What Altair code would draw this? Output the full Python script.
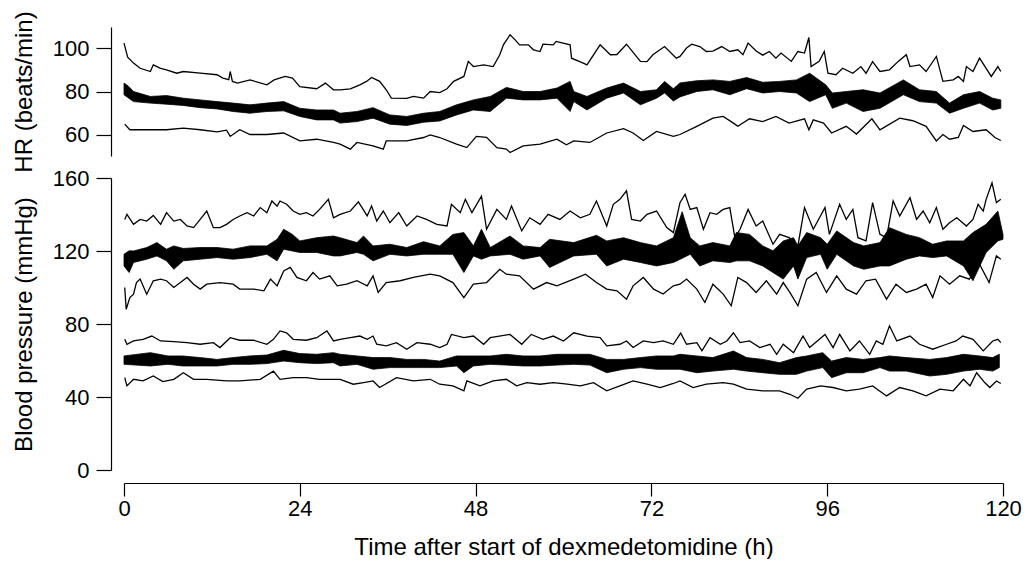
import altair as alt
import pandas as pd

# ---------------- Heart rate (beats/min) ----------------
hr_hi_t = [0.0, 0.5, 1.3, 2.2, 3.6, 4.0, 5.0, 5.8, 7.2, 8.1, 10.4, 12.7, 13.5, 14.3, 14.5, 14.8, 15.5, 17.2, 19.5, 20.5,
           22.0, 23.0, 24.0, 26.3, 27.5, 28.6, 29.5, 30.9, 32.2, 33.1, 33.8, 34.9, 35.8, 36.5, 38.6, 39.5, 40.9, 41.8, 43.1, 44.1,
           45.0, 46.4, 47.0, 47.7, 49.1, 50.4, 51.3, 51.8, 52.7, 53.4, 54.0, 55.2, 55.9, 56.8, 57.2, 58.6, 59.0, 60.9, 61.1, 62.7,
           63.2, 65.0, 66.4, 67.3, 68.6, 70.5, 71.4, 72.2, 73.8, 75.4, 75.9, 76.8, 77.5, 78.6, 79.5, 80.4, 81.6, 82.7, 83.8, 84.5,
           85.2, 86.3, 87.2, 88.1, 89.0, 89.7, 91.1, 92.0, 92.9, 93.5, 93.8, 94.9, 95.6, 96.1, 97.2, 98.1, 99.5, 100.6, 101.3, 102.2,
           103.2, 104.5, 105.7, 106.8, 107.3, 108.6, 109.5, 110.9, 111.8, 113.2, 113.9, 114.6, 115.0, 115.9, 116.8, 117.7, 118.4, 119.3, 119.7]
hr_hi_v = [102.5, 96.0, 93.2, 90.8, 89.3, 92.4, 90.8, 90.1, 88.5, 89.3, 88.5, 87.8, 86.2, 85.5, 89.3, 84.7, 83.9, 85.4, 83.1, 85.4,
           87.0, 86.2, 82.3, 81.3, 83.9, 80.8, 80.8, 81.2, 83.1, 84.7, 86.5, 84.7, 80.8, 76.9, 76.8, 77.7, 76.9, 80.0, 79.5, 81.3,
           84.7, 87.0, 94.0, 91.6, 92.4, 91.6, 97.1, 101.7, 106.4, 104.0, 101.7, 101.7, 99.4, 98.6, 102.0, 101.7, 103.3, 101.7, 95.5, 93.2,
           92.4, 101.7, 97.1, 97.2, 102.0, 94.0, 93.9, 97.1, 100.9, 95.5, 96.3, 100.2, 102.0, 100.9, 98.6, 98.8, 100.9, 98.6, 99.4, 97.1,
           102.5, 98.8, 96.9, 98.6, 95.5, 97.9, 94.0, 98.6, 97.9, 105.1, 91.6, 94.0, 98.6, 88.5, 87.8, 90.8, 88.5, 91.6, 88.5, 93.9,
           89.3, 90.1, 94.0, 97.1, 91.6, 92.4, 89.3, 96.3, 84.7, 85.4, 87.0, 84.7, 91.6, 89.3, 95.5, 90.8, 87.0, 91.6, 89.3]

hr_band_t = [0.0, 0.6, 1.3, 3.6, 5.8, 8.1, 10.4, 12.7, 14.9, 17.2, 19.5, 21.8, 24.0, 26.3, 28.6, 29.5, 31.8, 34.0, 36.3, 38.6,
             40.9, 43.1, 45.4, 47.7, 50.0, 52.2, 54.5, 56.8, 59.1, 60.9, 61.4, 63.2, 65.9, 68.2, 70.5, 72.7, 73.8, 75.0, 75.9, 78.2,
             80.4, 82.7, 85.0, 87.2, 89.5, 91.8, 93.6, 95.8, 96.7, 98.6, 100.9, 103.2, 106.4, 108.6, 110.9, 112.7, 114.6, 116.8, 118.6, 119.7]
hr_band_lo = [78.5, 77.0, 75.3, 74.6, 74.1, 73.5, 72.5, 71.9, 70.7, 69.9, 70.7, 71.0, 68.4, 66.8, 66.8, 65.3, 66.0, 67.6, 64.8, 64.2,
              65.7, 66.3, 69.1, 71.4, 70.7, 76.9, 76.1, 76.1, 76.9, 70.7, 75.3, 71.4, 76.9, 79.3, 73.8, 76.9, 79.3, 75.6, 77.5, 80.0,
              80.8, 78.5, 81.3, 79.3, 80.0, 79.3, 75.3, 78.5, 72.2, 74.6, 70.7, 72.2, 78.5, 75.3, 74.6, 69.9, 72.2, 74.6, 71.4, 72.2]
hr_band_hi = [83.9, 82.5, 80.0, 77.7, 78.1, 76.9, 76.1, 75.3, 74.6, 73.8, 74.6, 75.3, 72.2, 71.4, 71.4, 69.9, 70.7, 72.5, 69.1, 68.4,
              69.9, 70.7, 73.8, 76.1, 77.7, 81.9, 80.0, 80.0, 81.6, 84.7, 80.0, 77.7, 81.6, 83.9, 80.0, 80.8, 84.7, 81.3, 84.0, 85.0,
              85.4, 84.7, 86.5, 84.3, 84.7, 85.4, 88.5, 83.1, 79.3, 80.0, 80.8, 79.3, 85.4, 80.8, 80.0, 74.6, 78.5, 80.0, 76.9, 76.1]

hr_lo_t = [0.1, 0.8, 3.6, 5.8, 8.1, 10.4, 12.7, 14.0, 14.5, 15.8, 17.2, 19.5, 21.8, 24.0, 26.3, 28.6, 29.5, 30.9, 31.8, 34.0,
           35.4, 35.8, 38.6, 40.9, 41.8, 43.1, 45.4, 46.8, 48.1, 49.5, 50.9, 52.2, 52.7, 54.5, 56.8, 59.1, 60.4, 61.4, 63.6, 65.9,
           68.2, 69.5, 70.9, 72.7, 75.0, 75.9, 78.2, 80.4, 81.8, 83.2, 83.8, 85.4, 87.2, 89.0, 90.8, 92.9, 93.5, 94.1, 95.5, 96.6,
           98.6, 100.0, 102.1, 103.2, 105.9, 107.7, 109.5, 110.9, 111.8, 112.7, 113.9, 114.6, 115.9, 117.7, 118.9, 119.7]
hr_lo_v = [64.8, 62.2, 62.2, 62.2, 63.0, 62.2, 61.2, 62.0, 59.1, 62.2, 60.0, 60.0, 60.7, 57.0, 57.8, 56.3, 55.5, 53.2, 56.3, 54.7,
           53.2, 57.0, 57.0, 58.6, 59.8, 58.6, 55.5, 53.9, 59.1, 58.7, 53.9, 53.2, 51.6, 54.7, 55.5, 57.8, 55.2, 57.0, 56.3, 60.7,
           62.7, 60.7, 57.2, 61.4, 59.1, 60.0, 63.8, 67.6, 68.4, 65.3, 63.8, 67.3, 66.0, 68.4, 65.3, 67.3, 62.2, 66.8, 65.3, 60.7,
           63.8, 60.2, 67.3, 62.2, 67.6, 66.4, 63.8, 57.0, 60.0, 57.8, 58.6, 64.2, 61.4, 62.2, 58.6, 57.2]

# ---------------- Systolic blood pressure (mmHg) ----------------
sys_hi_t = [0.1, 0.4, 1.3, 2.2, 3.1, 4.0, 5.0, 5.8, 6.8, 7.7, 8.6, 9.5, 10.4, 11.3, 12.2, 13.1, 14.0, 14.9, 15.8, 16.8,
            17.7, 18.6, 19.5, 20.2, 20.9, 21.3, 22.2, 23.1, 24.0, 24.9, 25.8, 26.7, 27.9, 28.6, 29.5, 30.9, 32.0, 33.2, 33.8, 34.5,
            35.4, 36.3, 37.5, 38.6, 40.0, 41.3, 42.7, 44.1, 44.7, 45.9, 46.6, 47.5, 48.8, 49.5, 50.9, 52.2, 52.9, 54.3, 55.4, 56.8,
            57.9, 59.5, 60.9, 62.3, 63.6, 64.5, 65.9, 66.8, 67.7, 68.6, 69.3, 70.5, 71.4, 72.7, 74.1, 75.0, 75.9, 76.6, 77.3, 78.2,
            79.1, 80.0, 80.9, 81.8, 82.7, 83.4, 84.1, 85.2, 86.3, 87.2, 88.6, 89.5, 90.8, 92.0, 92.9, 94.1, 95.7, 96.3, 97.7, 98.6,
            99.5, 100.2, 101.3, 102.2, 103.2, 104.1, 105.0, 105.9, 107.3, 108.2, 109.1, 110.0, 110.9, 111.8, 112.7, 113.7, 115.0, 115.9, 116.6, 117.3,
            117.7, 118.5, 119.1, 119.7]
sys_hi_v = [137.3, 140.1, 134.6, 137.3, 136.4, 139.5, 134.6, 141.0, 136.4, 137.3, 133.7, 132.8, 137.3, 141.9, 132.8, 132.8, 134.6, 137.3, 139.2, 141.0,
            139.2, 143.8, 141.0, 147.4, 144.6, 147.4, 145.6, 141.9, 140.1, 141.0, 139.2, 142.8, 148.3, 138.2, 140.1, 141.9, 146.9, 139.2, 144.6, 136.4,
            141.9, 135.5, 141.0, 133.7, 139.2, 137.3, 134.6, 133.7, 145.6, 141.0, 148.3, 141.0, 150.1, 131.9, 142.8, 137.3, 144.6, 131.0, 138.2, 134.6,
            140.1, 137.3, 141.9, 138.2, 140.1, 147.4, 133.7, 145.6, 148.3, 153.0, 137.3, 136.4, 140.1, 141.9, 132.8, 130.1, 146.5, 151.1, 142.8, 143.8,
            131.9, 141.0, 140.1, 142.8, 143.8, 127.3, 131.9, 142.8, 133.7, 136.4, 123.7, 129.1, 127.3, 122.8, 143.8, 131.9, 143.8, 129.1, 145.6, 137.3,
            142.8, 127.3, 125.5, 146.5, 129.1, 127.3, 147.4, 139.2, 149.2, 137.3, 141.9, 135.5, 143.8, 131.9, 135.5, 138.2, 133.7, 137.3, 145.6, 141.9,
            148.3, 157.4, 146.5, 148.3]

sys_band_t = [0.0, 0.7, 1.3, 3.1, 4.5, 5.8, 6.8, 8.1, 10.4, 12.7, 14.9, 17.2, 19.5, 20.9, 21.8, 23.0, 24.0, 26.3, 28.6, 29.5,
              31.8, 32.7, 34.0, 36.3, 38.6, 40.9, 43.1, 44.9, 46.4, 47.7, 48.8, 50.0, 52.7, 54.5, 56.8, 58.1, 61.4, 64.5, 65.9, 68.2,
              70.5, 72.7, 75.0, 76.2, 77.3, 78.6, 80.4, 82.7, 83.6, 85.4, 87.2, 88.6, 90.0, 91.4, 92.0, 93.2, 95.1, 96.0, 97.3, 99.6,
              101.0, 103.2, 104.5, 106.8, 108.6, 110.4, 112.3, 114.6, 115.9, 117.7, 119.3, 120.0]
sys_band_lo = [111.8, 108.2, 113.7, 115.5, 117.3, 114.6, 110.0, 114.6, 115.5, 116.4, 115.5, 116.4, 118.2, 114.6, 121.0, 120.0, 119.2, 119.2, 117.3, 117.3,
               119.2, 118.2, 114.6, 118.2, 117.3, 118.2, 118.2, 118.2, 108.2, 117.3, 115.5, 117.3, 118.2, 115.5, 117.3, 111.0, 117.3, 118.2, 111.8, 115.5,
               113.7, 111.8, 113.7, 116.0, 118.2, 111.8, 114.6, 113.7, 114.6, 114.6, 111.8, 108.2, 104.6, 111.8, 104.6, 116.4, 118.2, 110.0, 118.2, 111.8,
               110.0, 111.8, 111.8, 115.5, 117.3, 116.4, 117.3, 111.8, 103.7, 119.2, 125.5, 126.4]
sys_band_hi = [118.2, 120.1, 120.0, 121.9, 124.6, 121.0, 122.8, 121.4, 121.9, 121.9, 121.0, 122.8, 122.8, 126.4, 131.9, 129.1, 125.5, 127.3, 128.2, 127.3,
               124.6, 128.2, 122.8, 123.7, 121.9, 125.1, 122.8, 129.1, 130.1, 122.8, 131.9, 121.9, 128.2, 122.8, 121.9, 126.4, 124.6, 128.6, 125.5, 127.3,
               124.6, 122.8, 127.3, 141.5, 127.3, 122.8, 124.6, 122.8, 130.1, 129.1, 122.8, 120.1, 125.5, 127.3, 122.8, 130.1, 127.3, 123.7, 131.0, 124.6,
               122.8, 124.6, 132.8, 129.1, 127.3, 123.7, 125.5, 125.5, 130.1, 134.6, 141.9, 129.1]

sys_lo_t = [0.1, 0.3, 0.8, 1.3, 1.7, 2.2, 3.1, 4.0, 5.0, 5.8, 6.8, 7.7, 8.6, 9.5, 10.4, 11.3, 13.1, 14.9, 15.8, 17.7,
            19.1, 20.0, 20.9, 21.8, 22.7, 23.6, 24.9, 25.8, 26.7, 28.1, 29.1, 30.4, 31.8, 33.2, 34.0, 34.7, 35.8, 37.7, 39.5, 41.8,
            43.1, 44.9, 46.4, 47.7, 49.5, 51.3, 52.2, 54.0, 55.9, 57.7, 59.1, 61.4, 63.0, 64.5, 65.9, 67.3, 68.6, 69.5, 70.9, 72.3,
            73.6, 75.0, 75.9, 76.8, 78.2, 79.3, 80.4, 81.8, 82.9, 83.8, 85.0, 86.3, 87.7, 89.1, 90.0, 90.9, 92.0, 93.2, 94.5, 95.9,
            97.3, 98.6, 100.0, 101.3, 102.6, 104.1, 105.4, 106.8, 108.2, 109.5, 110.4, 111.4, 112.7, 114.1, 115.4, 116.8, 118.1, 119.1, 119.7]
sys_lo_v = [100.0, 88.1, 94.5, 96.3, 102.7, 104.6, 96.3, 103.7, 104.6, 103.7, 100.0, 102.7, 105.5, 101.8, 99.1, 101.8, 102.7, 101.8, 99.1, 99.1,
            98.2, 104.6, 100.9, 109.1, 111.0, 105.5, 103.7, 108.2, 104.6, 106.4, 100.9, 101.8, 103.7, 100.9, 106.4, 97.3, 102.7, 103.7, 105.5, 107.3,
            106.4, 102.7, 94.5, 101.8, 102.7, 110.0, 107.3, 106.4, 99.1, 102.7, 100.9, 104.6, 107.3, 102.7, 99.1, 98.2, 93.6, 100.9, 105.5, 99.1,
            96.4, 100.9, 101.8, 104.6, 99.1, 91.8, 101.8, 96.4, 90.0, 105.5, 102.7, 97.3, 103.7, 96.4, 102.7, 97.3, 90.0, 104.6, 108.2, 97.3,
            106.4, 99.1, 96.4, 103.7, 104.6, 93.6, 101.8, 97.3, 99.1, 101.8, 94.5, 106.4, 101.8, 106.4, 104.6, 112.8, 102.7, 117.3, 115.5]

# ---------------- Diastolic blood pressure (mmHg) ----------------
dia_hi_t = [0.1, 0.4, 1.3, 2.6, 3.8, 5.0, 6.8, 8.6, 10.4, 12.2, 13.1, 14.5, 15.8, 17.7, 19.5, 20.4, 21.3, 22.2, 23.1, 24.9,
            26.3, 27.7, 28.6, 29.5, 30.9, 32.2, 33.2, 34.0, 34.5, 35.8, 37.2, 38.6, 40.0, 41.8, 43.1, 44.1, 44.7, 46.4, 47.7, 49.1,
            50.0, 52.7, 54.3, 55.6, 57.2, 58.6, 60.0, 61.4, 63.2, 65.0, 65.9, 67.7, 68.6, 69.5, 70.9, 72.3, 73.6, 75.0, 76.0, 76.8,
            78.2, 78.9, 80.0, 81.4, 82.3, 83.2, 84.1, 85.4, 86.8, 88.2, 89.1, 90.0, 91.4, 92.7, 93.6, 95.7, 96.8, 97.7, 99.1, 100.4,
            101.8, 102.7, 103.6, 104.5, 105.5, 107.3, 108.6, 110.4, 112.3, 113.6, 114.5, 115.9, 117.3, 118.6, 119.3, 119.7]
dia_hi_v = [71.6, 68.9, 70.7, 71.6, 73.4, 70.7, 70.3, 69.8, 68.9, 69.8, 67.1, 72.5, 71.1, 71.1, 68.9, 71.6, 76.2, 75.2, 71.6, 71.1,
            72.5, 76.2, 70.7, 71.6, 72.5, 73.4, 71.6, 73.4, 68.9, 68.0, 69.8, 66.2, 69.8, 68.9, 67.1, 68.9, 74.3, 72.5, 73.4, 68.9,
            72.5, 74.3, 68.9, 74.3, 71.6, 73.4, 70.7, 75.2, 73.4, 72.5, 68.0, 68.9, 70.7, 67.1, 70.7, 69.8, 70.7, 68.9, 75.0, 68.9,
            69.8, 65.3, 72.5, 68.9, 70.7, 75.2, 69.8, 70.7, 67.1, 68.9, 63.4, 68.9, 64.3, 73.4, 67.1, 74.3, 67.1, 74.3, 65.3, 70.7,
            63.4, 70.7, 68.9, 79.0, 70.7, 73.4, 68.9, 66.2, 68.9, 70.7, 73.4, 71.6, 65.3, 70.7, 71.6, 69.8]

dia_band_t = [0.0, 3.6, 6.0, 8.0, 10.4, 12.7, 14.9, 17.2, 19.5, 21.8, 24.0, 26.3, 28.6, 29.5, 31.8, 34.0, 36.3, 38.6, 40.9, 43.1,
              45.4, 46.4, 47.7, 50.0, 52.2, 54.5, 56.8, 59.1, 61.4, 63.6, 65.9, 68.2, 70.5, 72.7, 75.0, 75.9, 78.2, 80.4, 83.2, 85.0,
              87.2, 89.5, 91.8, 93.2, 95.4, 96.6, 98.6, 100.9, 103.2, 104.5, 106.8, 110.0, 112.3, 114.6, 116.8, 118.6, 119.5]
dia_band_lo = [57.9, 57.0, 57.9, 57.0, 57.0, 57.0, 57.9, 57.9, 58.3, 59.7, 58.8, 58.3, 58.8, 57.0, 57.9, 55.2, 56.1, 56.1, 56.1, 56.1,
               57.0, 53.3, 57.0, 57.9, 57.5, 57.0, 57.0, 57.5, 57.9, 57.5, 53.3, 55.2, 56.1, 55.2, 55.2, 55.2, 53.3, 54.2, 55.2, 54.2,
               53.3, 52.4, 52.4, 54.2, 56.1, 50.6, 53.3, 53.3, 56.1, 54.2, 54.2, 51.5, 52.4, 54.2, 55.2, 54.2, 56.1]
dia_band_hi = [62.5, 64.3, 62.5, 62.5, 61.6, 60.6, 61.6, 62.5, 63.0, 65.6, 63.8, 63.4, 64.3, 63.4, 62.5, 61.6, 61.6, 60.6, 60.6, 59.7,
               62.5, 62.5, 62.5, 62.5, 63.4, 62.5, 62.5, 63.4, 63.4, 63.4, 60.6, 60.6, 61.6, 62.5, 62.5, 63.4, 62.5, 61.6, 65.2, 61.6,
               60.6, 58.8, 61.6, 62.5, 64.3, 59.7, 61.6, 60.6, 61.6, 62.5, 61.6, 60.6, 61.6, 63.4, 62.5, 61.6, 63.4]

dia_lo_t = [0.1, 0.4, 1.3, 2.6, 4.0, 5.3, 6.8, 8.1, 9.5, 11.3, 14.0, 15.8, 18.6, 20.4, 21.3, 23.1, 24.9, 26.7, 28.6, 29.5,
            31.3, 32.7, 34.0, 34.9, 37.2, 39.5, 41.8, 43.1, 44.9, 46.4, 46.8, 48.6, 50.4, 52.2, 53.6, 55.0, 56.8, 58.6, 60.5, 62.3,
            64.1, 65.9, 67.7, 69.5, 71.4, 73.2, 75.0, 75.9, 77.7, 79.5, 81.8, 83.2, 85.0, 87.2, 89.5, 90.9, 92.0, 93.2, 95.1, 96.8,
            98.6, 100.4, 102.2, 104.1, 105.9, 107.7, 109.5, 111.4, 113.2, 114.6, 115.5, 116.4, 117.5, 118.2, 119.1, 119.7]
dia_lo_v = [50.6, 46.1, 49.7, 48.8, 51.5, 48.4, 49.7, 53.3, 49.7, 49.7, 48.8, 48.8, 49.7, 54.2, 49.7, 50.6, 50.6, 49.7, 49.7, 49.7,
            47.0, 47.9, 48.8, 45.2, 50.6, 48.8, 49.7, 47.0, 46.1, 43.4, 48.8, 46.1, 48.8, 49.7, 46.1, 47.9, 47.0, 47.9, 47.0, 46.1,
            47.9, 43.4, 46.1, 48.8, 47.0, 45.2, 47.4, 48.8, 45.2, 47.0, 47.9, 47.0, 44.3, 43.4, 43.4, 41.5, 39.3, 44.3, 46.1, 45.2,
            43.4, 44.3, 46.1, 40.6, 45.2, 43.4, 40.6, 44.3, 43.4, 49.7, 46.1, 53.3, 47.9, 45.2, 48.8, 47.4]

x_ticks = [0, 24, 48, 72, 96, 120]
hr_ticks = [60, 80, 100]
bp_ticks = [0, 40, 80, 120, 160]

FONT = "Liberation Sans"


def lines(pairs):
    return pd.concat([pd.DataFrame({"t": t, "v": v, "s": name}) for name, t, v in pairs], ignore_index=True)


def bands(groups):
    return pd.concat([pd.DataFrame({"t": t, "lo": lo, "hi": hi, "g": name}) for name, t, lo, hi in groups],
                     ignore_index=True)


hr_lines = lines([("hi", hr_hi_t, hr_hi_v), ("lo", hr_lo_t, hr_lo_v)])
hr_bands = bands([("hr", hr_band_t, hr_band_lo, hr_band_hi)])
bp_lines = lines([("sys_hi", sys_hi_t, sys_hi_v), ("sys_lo", sys_lo_t, sys_lo_v),
                  ("dia_hi", dia_hi_t, dia_hi_v), ("dia_lo", dia_lo_t, dia_lo_v)])
bp_bands = bands([("sys", sys_band_t, sys_band_lo, sys_band_hi), ("dia", dia_band_t, dia_band_lo, dia_band_hi)])

xscale = alt.Scale(domain=[0, 120], nice=False, zero=False)


def yaxis(title, ticks):
    return alt.Axis(title=title, values=ticks, offset=13, tickSize=15, labelPadding=7, titlePadding=16,
                    labelFontSize=22, titleFontSize=24, labelFont=FONT, titleFont=FONT, titleFontWeight="normal",
                    labelColor="black", titleColor="black", domainColor="black", tickColor="black",
                    domainWidth=1.2, tickWidth=1.2, grid=False, labelFlush=False)


xaxis = alt.Axis(title="Time after start of dexmedetomidine (h)", values=x_ticks, offset=13, tickSize=13,
                 labelPadding=2, titlePadding=16, labelFontSize=22, titleFontSize=24, labelFont=FONT,
                 titleFont=FONT, titleFontWeight="normal", labelColor="black", titleColor="black",
                 domainColor="black", tickColor="black", domainWidth=1.2, tickWidth=1.2, grid=False,
                 labelFlush=False)


def panel(line_df, band_df, title, ticks, domain, height, show_x):
    ys = alt.Scale(domain=domain, nice=False, zero=False)
    ax = yaxis(title, ticks)
    xenc_axis = xaxis if show_x else None
    band = alt.Chart(band_df).mark_area(color="black", stroke="black", strokeWidth=0.8).encode(
        x=alt.X("t:Q", scale=xscale, axis=xenc_axis),
        y=alt.Y("lo:Q", scale=ys, axis=ax),
        y2="hi:Q",
        detail="g:N",
    )
    ln = alt.Chart(line_df).mark_line(color="black", strokeWidth=1.3).encode(
        x=alt.X("t:Q", scale=xscale, axis=xenc_axis),
        y=alt.Y("v:Q", scale=ys, axis=ax),
        detail="s:N",
    )
    return alt.layer(band, ln).properties(width=879, height=height)


top = panel(hr_lines, hr_bands, "HR (beats/min)", hr_ticks, [50, 110], 129, False)
bottom = panel(bp_lines, bp_bands, "Blood pressure (mmHg)", bp_ticks, [0, 160], 292, True)

chart = alt.vconcat(top, bottom, spacing=22, bounds="flush").properties(
    padding={"left": 4, "top": 2, "right": 0, "bottom": 0}
).configure_view(stroke=None)

chart.save("out.html", embed_options={"renderer": "svg", "actions": False})
